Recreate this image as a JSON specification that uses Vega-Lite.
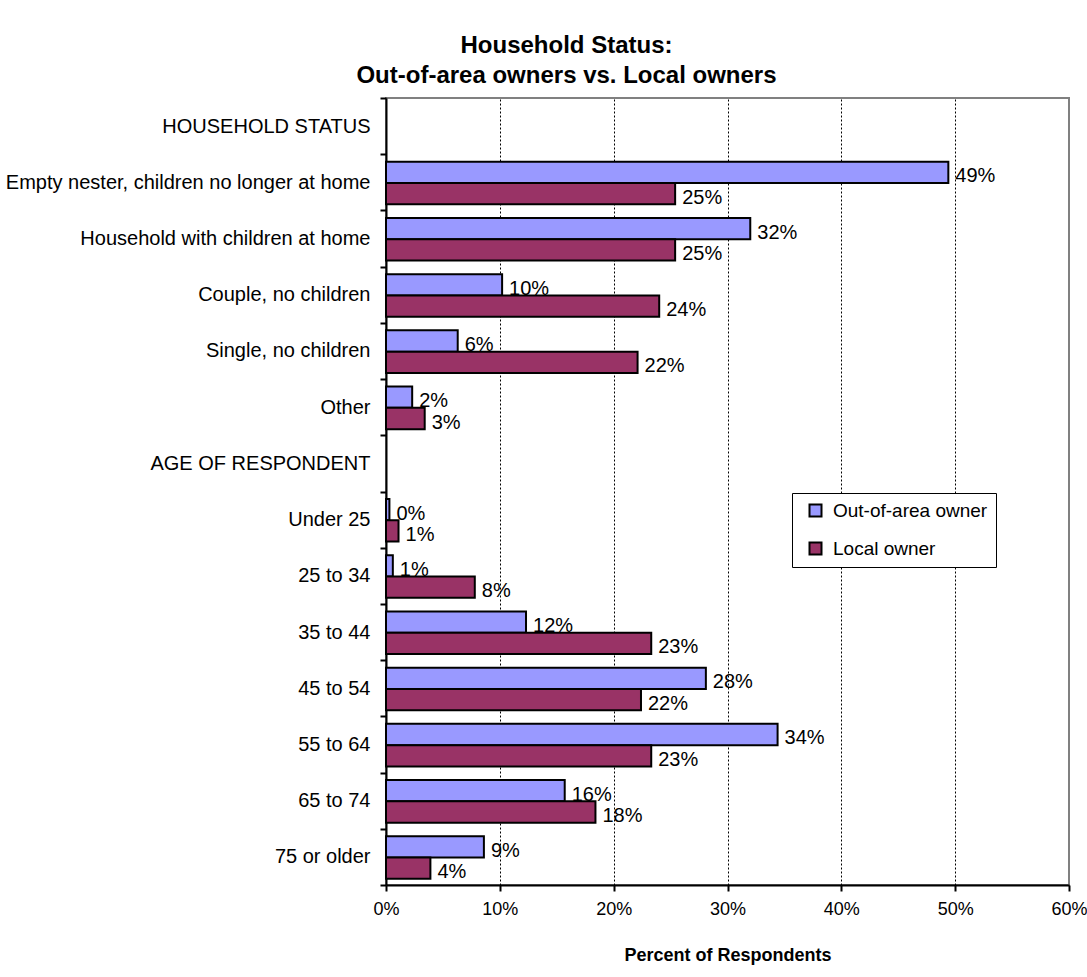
{
  "$schema": "https://vega.github.io/schema/vega-lite/v6.json",
  "autosize": {"type": "none"},
  "padding": {"left": 386, "top": 98, "right": 18, "bottom": 92},
  "width": 683,
  "height": 787,
  "background": "white",
  "config": {
    "font": "Liberation Sans Narrow, Arial Narrow, Liberation Sans, sans-serif",
    "view": {"stroke": "#808080", "strokeWidth": 2}
  },
  "title": {
    "text": ["Household Status:", "Out-of-area owners vs. Local owners"],
    "fontSize": 24,
    "fontWeight": "bold",
    "color": "black",
    "lineHeight": 30,
    "anchor": "middle",
    "dx": -161,
    "offset": 0
  },
  "data": {
    "values": [
      {"cat": "Empty nester, children no longer at home", "owner": "Out-of-area owner", "pct": 0.494},
      {"cat": "Empty nester, children no longer at home", "owner": "Local owner", "pct": 0.254},
      {"cat": "Household with children at home", "owner": "Out-of-area owner", "pct": 0.320},
      {"cat": "Household with children at home", "owner": "Local owner", "pct": 0.254},
      {"cat": "Couple, no children", "owner": "Out-of-area owner", "pct": 0.102},
      {"cat": "Couple, no children", "owner": "Local owner", "pct": 0.240},
      {"cat": "Single, no children", "owner": "Out-of-area owner", "pct": 0.063},
      {"cat": "Single, no children", "owner": "Local owner", "pct": 0.221},
      {"cat": "Other", "owner": "Out-of-area owner", "pct": 0.023},
      {"cat": "Other", "owner": "Local owner", "pct": 0.034},
      {"cat": "Under 25", "owner": "Out-of-area owner", "pct": 0.003},
      {"cat": "Under 25", "owner": "Local owner", "pct": 0.011},
      {"cat": "25 to 34", "owner": "Out-of-area owner", "pct": 0.006},
      {"cat": "25 to 34", "owner": "Local owner", "pct": 0.078},
      {"cat": "35 to 44", "owner": "Out-of-area owner", "pct": 0.123},
      {"cat": "35 to 44", "owner": "Local owner", "pct": 0.233},
      {"cat": "45 to 54", "owner": "Out-of-area owner", "pct": 0.281},
      {"cat": "45 to 54", "owner": "Local owner", "pct": 0.224},
      {"cat": "55 to 64", "owner": "Out-of-area owner", "pct": 0.344},
      {"cat": "55 to 64", "owner": "Local owner", "pct": 0.233},
      {"cat": "65 to 74", "owner": "Out-of-area owner", "pct": 0.157},
      {"cat": "65 to 74", "owner": "Local owner", "pct": 0.184},
      {"cat": "75 or older", "owner": "Out-of-area owner", "pct": 0.086},
      {"cat": "75 or older", "owner": "Local owner", "pct": 0.039}
    ]
  },
  "encoding": {
    "y": {
      "field": "cat",
      "type": "nominal",
      "scale": {
        "domain": ["HOUSEHOLD STATUS", "Empty nester, children no longer at home", "Household with children at home", "Couple, no children", "Single, no children", "Other", "AGE OF RESPONDENT", "Under 25", "25 to 34", "35 to 44", "45 to 54", "55 to 64", "65 to 74", "75 or older"],
        "paddingInner": 0,
        "paddingOuter": 0
      },
      "axis": {
        "title": null,
        "tickBand": "extent",
        "domainColor": "black",
        "domainWidth": 2,
        "tickColor": "black",
        "tickWidth": 2,
        "tickSize": 6,
        "labelPadding": 10,
        "labelFontSize": 20,
        "labelColor": "black",
        "labelLimit": 400
      }
    },
    "yOffset": {
      "field": "owner",
      "type": "nominal",
      "scale": {"domain": ["Out-of-area owner", "Local owner"], "paddingInner": 0, "paddingOuter": 0.32, "align": 0.55}
    },
    "x": {
      "field": "pct",
      "type": "quantitative",
      "scale": {"domain": [0, 0.6], "nice": false, "zero": true},
      "axis": {
        "title": "Percent of Respondents",
        "titleFontSize": 18,
        "titleFontWeight": "bold",
        "titleColor": "black",
        "titlePadding": 28,
        "values": [0, 0.1, 0.2, 0.3, 0.4, 0.5, 0.6],
        "format": ".0%",
        "labelFontSize": 18,
        "labelColor": "black",
        "labelPadding": 9,
        "labelFlush": false,
        "domainColor": "black",
        "domainWidth": 2,
        "tickColor": "black",
        "tickWidth": 2,
        "tickSize": 6,
        "grid": true,
        "gridColor": "black",
        "gridDash": [2, 2],
        "gridWidth": 1,
        "gridOpacity": {"condition": {"test": "datum.value <= 0 || datum.value >= 0.6", "value": 0}, "value": 1}
      }
    }
  },
  "layer": [
    {
      "mark": {"type": "bar", "stroke": "black", "strokeWidth": 2},
      "encoding": {
        "color": {
          "field": "owner",
          "type": "nominal",
          "scale": {"domain": ["Out-of-area owner", "Local owner"], "range": ["#9999FF", "#993366"]},
          "legend": {
            "title": null,
            "orient": "none",
            "legendX": 406,
            "legendY": 395,
            "direction": "vertical",
            "fillColor": "white",
            "strokeColor": "black",
            "padding": 8,
            "rowPadding": 17,
            "symbolType": "square",
            "symbolSize": 144,
            "symbolOffset": 6,
            "symbolStrokeColor": "black",
            "symbolStrokeWidth": 2,
            "symbolOpacity": 1,
            "labelFontSize": 19,
            "labelLimit": 300,
            "labelColor": "black",
            "labelOffset": 8
          }
        }
      }
    },
    {
      "mark": {"type": "text", "align": "left", "baseline": "middle", "dx": 7, "dy": 4, "fontSize": 20, "color": "black"},
      "encoding": {
        "text": {"field": "pct", "type": "quantitative", "format": ".0%"}
      }
    }
  ]
}
